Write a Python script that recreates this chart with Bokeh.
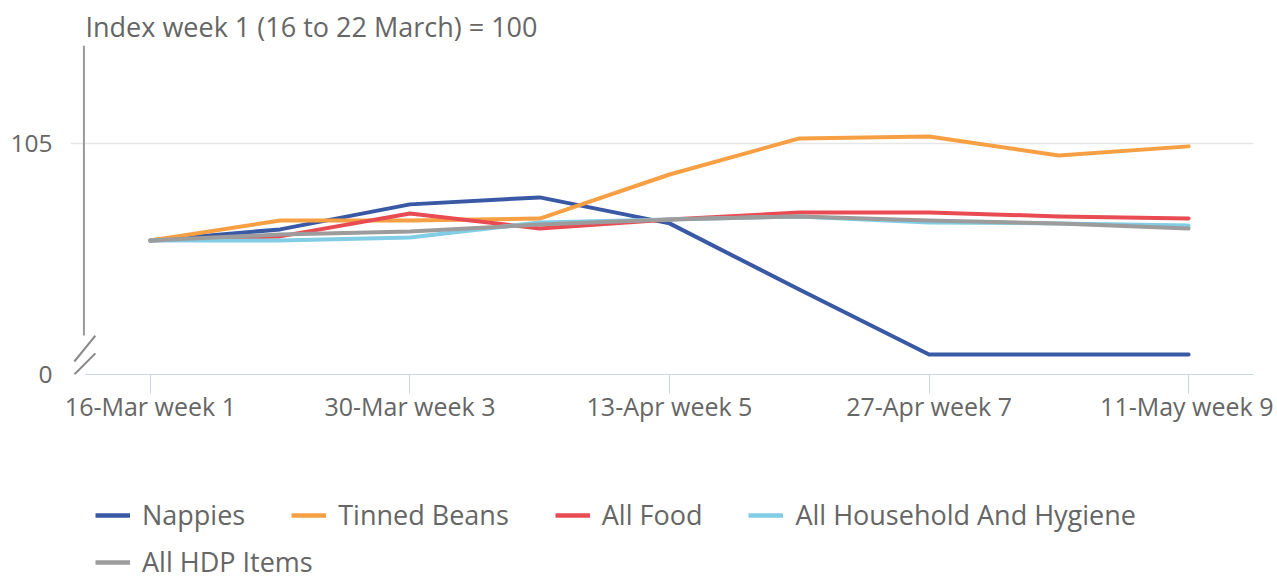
from bokeh.plotting import figure
from bokeh.layouts import column
from bokeh.models import Range1d, FixedTicker, Legend, LegendItem
from bokeh.embed import file_html
from bokeh.resources import INLINE

# ---- data ----
weeks = [1, 2, 3, 4, 5, 6, 7, 8, 9]
week_labels = ["16-Mar week 1", "23-Mar week 2", "30-Mar week 3", "6-Apr week 4",
               "13-Apr week 5", "20-Apr week 6", "27-Apr week 7", "4-May week 8",
               "11-May week 9"]
x_tick_weeks = [1, 3, 5, 7, 9]

nappies = [100, 100.57, 101.86, 102.22, 100.88, 97.47, 94.12, 94.12, 94.12]
tinned_beans = [100, 101.03, 101.03, 101.13, 103.40, 105.26, 105.36, 104.38, 104.85]
all_food = [100, 100.21, 101.39, 100.62, 101.08, 101.44, 101.44, 101.24, 101.13]
household_hygiene = [100, 100.0, 100.15, 100.93, 101.08, 101.24, 100.93, 100.88, 100.77]
all_hdp = [100, 100.31, 100.46, 100.82, 101.08, 101.24, 101.03, 100.88, 100.62]

series_names = ["Nappies", "Tinned Beans", "All Food", "All Household And Hygiene", "All HDP Items"]
series_values = [nappies, tinned_beans, all_food, household_hygiene, all_hdp]
series_colors = ["#3a59a4", "#f7a043", "#e84c52", "#80cde5", "#9c9c9c"]

# broken y axis: bottom of axis (labelled 0) and top
y_min, y_max = 93.09, 110.05
y_break = 95.1
y_ticks = [93.09, 105]
y_tick_labels = ["0", "105"]
x_min, x_max = 0.5, 9.5

FONT = "Open Sans"
TXT = "#666666"
LINE_W = 4

p = figure(width=1273, height=450, output_backend="svg", toolbar_location=None,
           x_range=Range1d(0.3844, x_max), y_range=Range1d(y_min, y_max),
           min_border_left=70, min_border_right=20, min_border_top=45,
           min_border_bottom=76, outline_line_color=None,
           title="Index week 1 (16 to 22 March) = 100")

p.title.text_font = FONT
p.title.text_font_size = "27px"
p.title.text_font_style = "normal"
p.title.text_color = TXT
p.title.align = "left"
p.title.offset = 15
p.title.standoff = 2

# x axis
xa = p.xaxis[0]
xa.bounds = (x_min, x_max)
xa.ticker = FixedTicker(ticks=x_tick_weeks)
xa.major_label_overrides = {w: week_labels[w - 1] for w in x_tick_weeks}
xa.major_tick_out = 19
xa.major_tick_in = 0
xa.minor_tick_out = 0
xa.minor_tick_in = 0
xa.major_tick_line_color = "#ccd6eb"
xa.axis_line_color = "#ccd6eb"
xa.major_label_text_font = FONT
xa.major_label_text_font_size = "25px"
xa.major_label_text_color = TXT
xa.major_label_standoff = -5

# y axis labels
ya = p.yaxis[0]
ya.ticker = FixedTicker(ticks=y_ticks)
ya.major_label_overrides = {t: l for t, l in zip(y_ticks, y_tick_labels)}
ya.axis_line_color = None
ya.major_tick_out = 0
ya.major_tick_in = 0
ya.minor_tick_out = 0
ya.minor_tick_in = 0
ya.major_label_text_font = FONT
ya.major_label_text_font_size = "24.5px"
ya.major_label_text_color = TXT
ya.major_label_standoff = 18

p.xgrid.visible = False
p.ygrid.ticker = FixedTicker(ticks=[105])
p.ygrid.bounds = (x_min, x_max)
p.ygrid.grid_line_color = "#e6e6e6"
p.ygrid.grid_line_width = 1.5

# y axis line, stopping at the axis break, and the break marks
p.segment(x0=[x_min - 0.012], y0=[y_break], x1=[x_min - 0.012], y1=[y_max],
          line_color="#999999", line_width=2)
p.segment(x0=[0.414, 0.414], y0=[y_min + 0.67, y_min], x1=[0.576, 0.576], y1=[y_break, y_min + 1.09],
          line_color="#888888", line_width=2)

for name, vals, col in zip(series_names, series_values, series_colors):
    p.line(weeks, vals, line_color=col, line_width=LINE_W, line_cap="round", line_join="round")

# ---- legend strip below the chart ----
lg = figure(width=1273, height=130, output_backend="svg", toolbar_location=None,
            x_range=Range1d(0, 1), y_range=Range1d(0, 1), x_axis_type=None, y_axis_type=None,
            min_border=0, outline_line_color=None)
lg.grid.visible = False
# key renderers sit outside the visible range; only their legend swatches show
key_renderers = [lg.line([-2, -1], [-2, -1], line_color=c, line_width=LINE_W + 0.5)
                 for c in series_colors]

common = dict(orientation="horizontal", margin=0, padding=0, spacing=46,
              glyph_width=35, glyph_height=20, label_standoff=12,
              label_text_font=FONT, label_text_font_size="27px", label_text_color=TXT,
              background_fill_alpha=0, border_line_color=None)

leg1 = Legend(items=[LegendItem(label=n, renderers=[r]) for n, r in zip(series_names[:4], key_renderers[:4])],
              location=(25, 47), **common)
leg2 = Legend(items=[LegendItem(label=series_names[4], renderers=[key_renderers[4]])],
              location=(25, 0), **common)
lg.add_layout(leg1)
lg.add_layout(leg2)

layout = column(p, lg, spacing=0)
open("out.html", "w").write(file_html(layout, INLINE))
